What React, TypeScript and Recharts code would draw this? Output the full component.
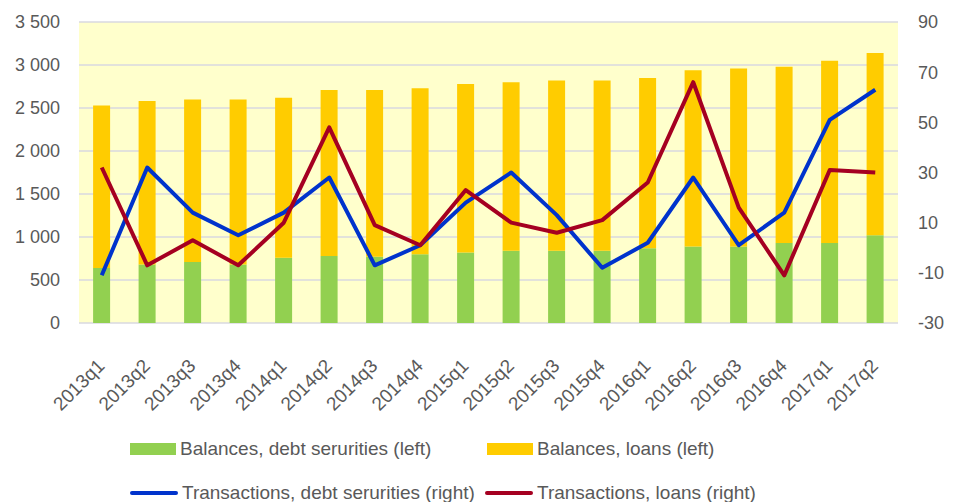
import React from "react";
import { ComposedChart, Bar, Line, XAxis, YAxis, CartesianGrid, Legend } from "recharts";

const categories = ["2013q1","2013q2","2013q3","2013q4","2014q1","2014q2","2014q3","2014q4","2015q1","2015q2","2015q3","2015q4","2016q1","2016q2","2016q3","2016q4","2017q1","2017q2"];
const balancesDebt = [640, 680, 710, 680, 760, 780, 770, 800, 820, 840, 840, 840, 870, 890, 890, 930, 930, 1020];
const balancesLoans = [1890, 1900, 1890, 1920, 1860, 1930, 1940, 1930, 1960, 1960, 1980, 1980, 1980, 2050, 2070, 2050, 2120, 2120];
const transDebt = [-11, 32, 14, 5, 14, 28, -7, 1, 18, 30, 13, -8, 2, 28, 1, 14, 51, 63];
const transLoans = [32, -7, 3, -7, 10, 48, 9, 1, 23, 10, 6, 11, 26, 66, 16, -11, 31, 30];
const leftTicks = [0, 500, 1000, 1500, 2000, 2500, 3000, 3500];
const rightTicks = [-30, -10, 10, 30, 50, 70, 90];

const seriesNames = {
  debtBal: "Balances, debt serurities (left)",
  loanBal: "Balances, loans (left)",
  debtTr: "Transactions, debt serurities (right)",
  loanTr: "Transactions, loans (right)",
};

const COLORS = { green: "#92d050", yellow: "#ffcc00", blue: "#0033cc", red: "#a50021" };
const FONT = "'Liberation Sans', Arial, sans-serif";
const TXT = "#595959";

const data = categories.map((c, i) => ({
  cat: c,
  debtBal: balancesDebt[i],
  loanBal: balancesLoans[i],
  debtTr: transDebt[i],
  loanTr: transLoans[i],
}));

const fmtThousands = (v: number) => {
  if (Math.abs(v) >= 1000) {
    const t = Math.floor(v / 1000);
    const r = String(v % 1000).padStart(3, "0");
    return `${t} ${r}`;
  }
  return String(v);
};

const XTick = (props: any) => {
  const { x, y, payload } = props;
  return (
    <g transform={`translate(${x + 4},${y + 44}) rotate(-45)`}>
      <text x={0} y={0} textAnchor="end" fill={TXT} fontSize={19} fontFamily={FONT}>
        {payload.value}
      </text>
    </g>
  );
};

const LegendContent = () => {
  const item = (left: number, top: number, kind: "box" | "line", color: string, label: string) => (
    <div style={{ position: "absolute", left, top, display: "flex", alignItems: "center", whiteSpace: "nowrap" }}>
      {kind === "box" ? (
        <div style={{ width: 46, height: 12, background: color }} />
      ) : (
        <div style={{ width: 48, height: 4, borderRadius: 2, background: color }} />
      )}
      <span style={{ marginLeft: 4, color: TXT, fontSize: 19, fontFamily: FONT, lineHeight: "20px" }}>{label}</span>
    </div>
  );
  return (
    <div style={{ position: "relative", width: 955, height: 70 }}>
      {item(130, 7, "box", COLORS.green, seriesNames.debtBal)}
      {item(487, 7, "box", COLORS.yellow, seriesNames.loanBal)}
      {item(130, 51, "line", COLORS.blue, seriesNames.debtTr)}
      {item(485, 51, "line", COLORS.red, seriesNames.loanTr)}
    </div>
  );
};

export default function App() {
  return (
    <div style={{ position: "absolute", left: 0, top: 0, width: 955, height: 502, background: "#fff" }}>
      <ComposedChart width={955} height={502} data={data} margin={{ top: 22, right: 0, bottom: 0, left: 0 }} barCategoryGap="31%">
        <CartesianGrid yAxisId="left" vertical={false} horizontal={true} stroke="#d9d9e0" strokeWidth={1.5} fill="#ffffcc" />
        <XAxis dataKey="cat" height={109} tickLine={false} axisLine={false} tickSize={0} tickMargin={0} interval={0} tick={<XTick />} />
        <YAxis yAxisId="left" orientation="left" width={79} domain={[0, 3500]} ticks={leftTicks} tickFormatter={fmtThousands} tickLine={false} axisLine={false} tickSize={0} tickMargin={19} tick={{ fill: TXT, fontSize: 18, fontFamily: FONT }} interval={0} />
        <YAxis yAxisId="right" orientation="right" width={57} domain={[-30, 90]} ticks={rightTicks} tickLine={false} axisLine={false} tickSize={0} tickMargin={20} tick={{ fill: TXT, fontSize: 18, fontFamily: FONT, textAnchor: "start" }} interval={0} />
        <Legend verticalAlign="bottom" height={70} content={<LegendContent />} wrapperStyle={{ left: 0, bottom: 0, width: 955, height: 70 }} />
        <Bar yAxisId="left" dataKey="debtBal" name={seriesNames.debtBal} stackId="a" fill={COLORS.green} isAnimationActive={false} />
        <Bar yAxisId="left" dataKey="loanBal" name={seriesNames.loanBal} stackId="a" fill={COLORS.yellow} isAnimationActive={false} />
        <Line yAxisId="right" dataKey="debtTr" name={seriesNames.debtTr} stroke={COLORS.blue} strokeWidth={4} dot={false} activeDot={false} isAnimationActive={false} strokeLinejoin="round" />
        <Line yAxisId="right" dataKey="loanTr" name={seriesNames.loanTr} stroke={COLORS.red} strokeWidth={4} dot={false} activeDot={false} isAnimationActive={false} strokeLinejoin="round" />
      </ComposedChart>
    </div>
  );
}
